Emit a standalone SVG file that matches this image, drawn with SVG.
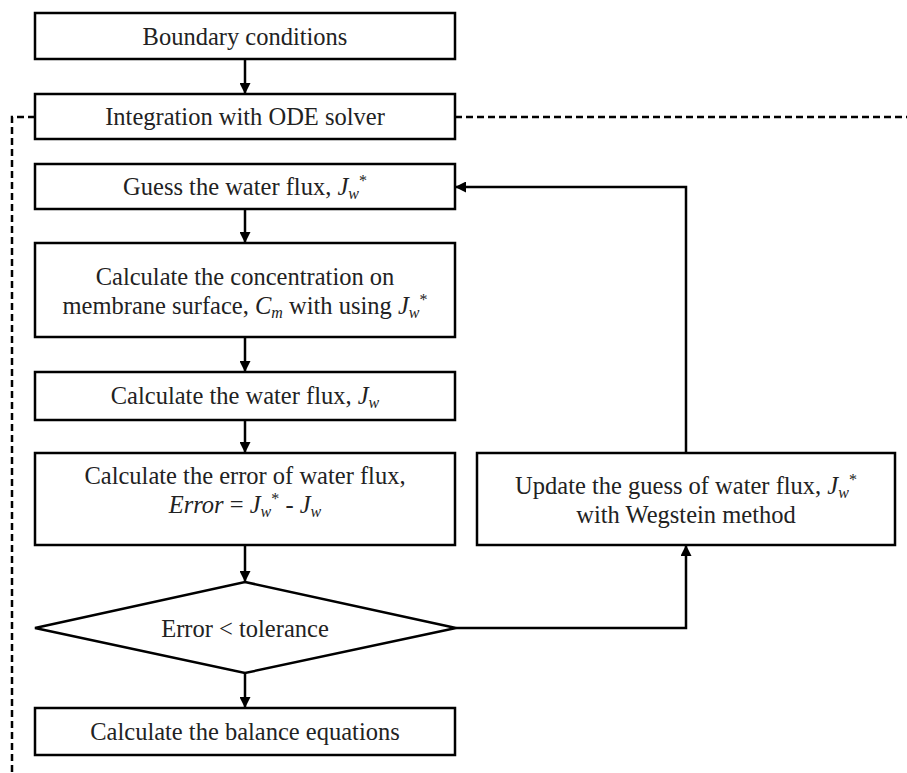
<svg xmlns="http://www.w3.org/2000/svg" width="907" height="773" viewBox="0 0 907 773">
<style>
.box{fill:#fff;stroke:#000;stroke-width:2.5}
.ln{fill:none;stroke:#000;stroke-width:2.5}
.dash{fill:none;stroke:#000;stroke-width:2.5;stroke-dasharray:7,4}
text{font-family:"Liberation Serif","Times New Roman",serif;font-size:24.5px;fill:#222;text-anchor:middle}
.i{font-style:italic}
.sub{font-size:16px;font-style:italic}
.sup{font-size:16px}
</style>
<defs>
<marker id="ah" markerWidth="11" markerHeight="11" refX="10" refY="5.5" orient="auto" markerUnits="userSpaceOnUse">
<path d="M0,0 L11,5.5 L0,11 Z" fill="#000"/>
</marker>
</defs>
<g id="connectors">
<path class="ln" d="M245,59 V93" marker-end="url(#ah)"/>
<path class="ln" d="M245,209 V242" marker-end="url(#ah)"/>
<path class="ln" d="M245,337 V371" marker-end="url(#ah)"/>
<path class="ln" d="M245,420 V452" marker-end="url(#ah)"/>
<path class="ln" d="M245,545 V581" marker-end="url(#ah)"/>
<path class="ln" d="M245,673 V707" marker-end="url(#ah)"/>
<path class="ln" d="M456,628 H686 V546" marker-end="url(#ah)"/>
<path class="ln" d="M686,453 V187 H456" marker-end="url(#ah)"/>
<path class="dash" d="M35,117 H12 V773"/>
<path class="dash" d="M455,117 H907"/>
</g>
<g id="n-boundary">
<rect class="box" x="35" y="13" width="420" height="46"/>
<text x="245" y="45">Boundary conditions</text>
</g>
<g id="n-integration">
<rect class="box" x="35" y="94" width="420" height="45"/>
<text x="245" y="125">Integration with ODE solver</text>
</g>
<g id="n-guess">
<rect class="box" x="35" y="164" width="420" height="45"/>
<text x="245" y="195">Guess the water flux, <tspan class="i">J</tspan><tspan class="sub" dy="4">w</tspan><tspan class="sup" dy="-13">*</tspan></text>
</g>
<g id="n-concentration">
<rect class="box" x="35" y="243" width="420" height="94"/>
<text x="245" y="285">Calculate the concentration on</text>
<text x="245" y="314">membrane surface, <tspan class="i">C</tspan><tspan class="sub" dy="4">m</tspan><tspan dy="-4"> with using </tspan><tspan class="i">J</tspan><tspan class="sub" dy="4">w</tspan><tspan class="sup" dy="-13">*</tspan></text>
</g>
<g id="n-waterflux">
<rect class="box" x="35" y="372" width="420" height="48"/>
<text x="245" y="404">Calculate the water flux, <tspan class="i">J</tspan><tspan class="sub" dy="4">w</tspan></text>
</g>
<g id="n-error">
<rect class="box" x="35" y="453" width="420" height="92"/>
<text x="245" y="484">Calculate the error of water flux,</text>
<text x="245" y="513"><tspan class="i">Error</tspan> = <tspan class="i">J</tspan><tspan class="sub" dy="4">w</tspan><tspan class="sup" dy="-13">*</tspan><tspan dy="9"> - </tspan><tspan class="i">J</tspan><tspan class="sub" dy="4">w</tspan></text>
</g>
<g id="n-decision">
<polygon class="box" points="245,582 456,628 245,673 35,628"/>
<text x="245" y="637">Error &lt; tolerance</text>
</g>
<g id="n-balance">
<rect class="box" x="35" y="708" width="420" height="47"/>
<text x="245" y="740">Calculate the balance equations</text>
</g>
<g id="n-update">
<rect class="box" x="477" y="453" width="418" height="92"/>
<text x="686" y="494">Update the guess of water flux, <tspan class="i">J</tspan><tspan class="sub" dy="4">w</tspan><tspan class="sup" dy="-13">*</tspan></text>
<text x="686" y="523">with Wegstein method</text>
</g>
</svg>
